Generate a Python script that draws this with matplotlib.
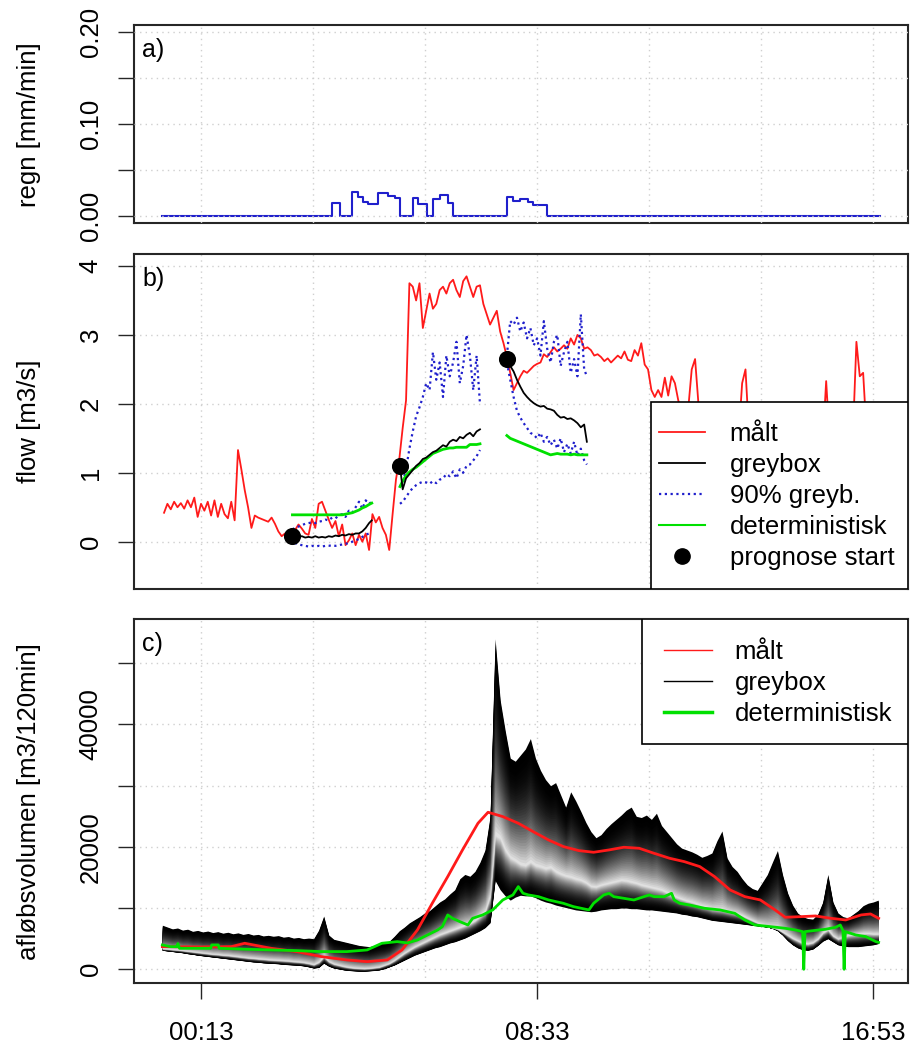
import numpy as np
import matplotlib
matplotlib.use("Agg")
import matplotlib.pyplot as plt
from matplotlib.lines import Line2D
from matplotlib.patches import Rectangle

plt.rcParams['font.family'] = ['Liberation Sans', 'DejaVu Sans']

# ---------------- data (time = minutes after 00:13) ----------------
xtick_pos = [0, 500, 1000]
xtick_lab = ['00:13', '08:33', '16:53']

# a) rain, step values
rain_t = [-58, 194.4, 206.8, 224.2, 234.1, 241.5, 248.9, 263.8, 271.2, 278.6, 288.5, 296.0,
          314.9, 323.3, 335.7, 344.6, 355.5, 367.9, 375.3, 455.7, 464.6, 474.5, 486.9,
          494.3, 515.1, 1010]
rain_v = [0, 0.0138, 0, 0.0264, 0.0210, 0.0156, 0.0130, 0.0253, 0.0245, 0.0217, 0.0195, 0,
          0.0195, 0.0130, 0, 0.0180, 0.0224, 0.0145, 0, 0.0203, 0.0163, 0.0181, 0.0152,
          0.0116, 0, 0]

# b) measured flow, every 5 min from -55 to 1010
flow_t = np.arange(-55, 1011, 5)
flow_maalt = [
    0.42, 0.55, 0.47, 0.58, 0.50, 0.56, 0.48, 0.60, 0.50, 0.64,
    0.36, 0.55, 0.45, 0.58, 0.38, 0.60, 0.36, 0.55, 0.40, 0.34,
    0.58, 0.31, 1.33, 1.05, 0.75, 0.50, 0.20, 0.38, 0.35, 0.33,
    0.31, 0.29, 0.35, 0.26, 0.15, 0.08, 0.12, 0.06, 0.02,
    0.17, 0.25, 0.19, 0.12, 0.10, 0.33, 0.20, 0.55, 0.58, 0.45,
    0.32, 0.20, 0.30, 0.08, 0.25, -0.05, 0.02, 0.12, -0.05, 0.10,
    0.00, 0.12, -0.12, 0.40, 0.28, 0.36, 0.20, 0.10,
    -0.12, 0.40, 0.90, 1.20, 1.65, 2.05, 3.75, 3.70, 3.50, 3.75,
    3.10, 3.35, 3.60, 3.38, 3.45, 3.65, 3.70, 3.60, 3.75, 3.80,
    3.65, 3.55, 3.78, 3.85, 3.70, 3.55, 3.70, 3.72, 3.45, 3.30,
    3.15, 3.25, 3.35, 3.05, 2.88, 2.68, 2.45, 2.20, 2.30, 2.40,
    2.48, 2.45, 2.50, 2.55, 2.58, 2.60, 2.72, 2.68, 2.75, 2.82,
    2.76, 2.80, 2.85, 2.80, 2.95, 2.86, 3.00, 2.95, 2.80, 2.82,
    2.78, 2.70, 2.72, 2.68, 2.62, 2.66, 2.60, 2.65, 2.70, 2.66,
    2.76, 2.64, 2.62, 2.78, 2.70, 2.88, 2.57, 2.50, 2.20, 2.10,
    2.20, 2.10, 2.38, 2.12, 2.40, 2.30, 2.05, 1.90, 1.85, 1.95,
    2.50, 2.65, 2.00, 1.85, 1.80, 1.70, 1.75, 1.65, 1.70, 1.60,
    1.65, 1.55, 1.60, 1.50, 1.55, 2.30, 2.50, 1.60, 1.50, 1.55,
    1.50, 1.45, 1.55, 1.50, 1.45, 1.50, 1.40, 1.45, 1.50, 1.45,
    1.40, 1.50, 1.45, 1.40, 1.45, 1.50, 1.40, 1.45, 1.50, 1.45,
    2.33, 1.50, 1.45, 1.40, 1.50, 1.45, 1.50, 1.55, 1.60, 2.90,
    2.40, 2.45, 1.60, 1.55, 1.50, 1.55, 1.50]

# forecast starts
start_t = [136, 296, 455]
start_v = [0.09, 1.10, 2.65]

f1_t = [136, 140, 145, 150, 155, 160, 165, 170, 175, 180, 185, 190, 195, 200, 205, 210,
        215, 220, 225, 230, 235, 240, 245, 250, 254]
f1_grey = [0.09, 0.08, 0.07, 0.08, 0.06, 0.07, 0.06, 0.08, 0.06, 0.07, 0.06, 0.08, 0.07,
           0.09, 0.08, 0.10, 0.09, 0.11, 0.10, 0.12, 0.12, 0.15, 0.20, 0.27, 0.31]
f1_det = [0.39, 0.39, 0.39, 0.39, 0.39, 0.39, 0.39, 0.39, 0.39, 0.39, 0.39, 0.39, 0.39,
          0.39, 0.39, 0.39, 0.40, 0.41, 0.42, 0.44, 0.46, 0.49, 0.51, 0.54, 0.56]
f1_hi = [0.18, 0.20, 0.22, 0.24, 0.26, 0.27, 0.28, 0.27, 0.29, 0.30, 0.32, 0.31, 0.35,
         0.34, 0.38, 0.40, 0.36, 0.45, 0.42, 0.50, 0.58, 0.48, 0.60, 0.55, 0.58]
f1_lo = [0.06, -0.02, -0.04, -0.05, -0.06, -0.07, -0.06, -0.07, -0.06, -0.07, -0.06, -0.06,
         -0.05, -0.06, -0.05, -0.04, -0.03, -0.02, 0.00, 0.02, 0.04, 0.07, 0.10, 0.12, 0.14]

f2_t = [296, 300, 305, 310, 315, 320, 325, 330, 335, 340, 345, 350, 355, 360, 365, 370,
        375, 380, 385, 390, 395, 400, 405, 410, 415]
f2_grey = [1.10, 0.76, 0.92, 0.98, 1.04, 1.10, 1.14, 1.20, 1.22, 1.26, 1.30, 1.32, 1.36,
           1.40, 1.38, 1.45, 1.48, 1.46, 1.52, 1.50, 1.55, 1.58, 1.53, 1.60, 1.63]
f2_det = [0.80, 0.88, 0.96, 1.01, 1.05, 1.08, 1.12, 1.16, 1.20, 1.24, 1.28, 1.30, 1.32,
          1.34, 1.35, 1.36, 1.36, 1.37, 1.37, 1.37, 1.37, 1.41, 1.41, 1.41, 1.42]
f2_hi = [0.80, 0.85, 1.05, 1.35, 1.60, 1.82, 1.95, 2.10, 2.30, 2.20, 2.75, 2.35, 2.60,
         2.10, 2.70, 2.40, 2.60, 2.90, 2.30, 2.55, 3.00, 2.70, 2.20, 2.70, 2.00]
f2_lo = [0.55, 0.58, 0.65, 0.72, 0.78, 0.82, 0.85, 0.87, 0.86, 0.84, 0.88, 0.85, 0.90,
         0.92, 0.98, 0.95, 1.02, 0.92, 1.05, 1.00, 1.10, 1.12, 1.18, 1.24, 1.33]

f3_t = [455, 460, 465, 470, 475, 480, 485, 490, 495, 500, 505, 510, 515, 520, 525, 530,
        535, 540, 545, 550, 555, 560, 565, 570, 574]
f3_grey = [2.65, 2.55, 2.47, 2.35, 2.25, 2.16, 2.10, 2.05, 2.01, 1.98, 1.96, 1.97, 1.93,
           1.92, 1.90, 1.84, 1.80, 1.81, 1.78, 1.79, 1.76, 1.72, 1.66, 1.70, 1.45]
f3_det = [1.54, 1.50, 1.48, 1.46, 1.44, 1.42, 1.40, 1.38, 1.36, 1.34, 1.32, 1.30, 1.28,
          1.26, 1.27, 1.28, 1.27, 1.27, 1.27, 1.26, 1.27, 1.26, 1.26, 1.26, 1.26]
f3_hi = [2.70, 3.20, 3.15, 3.25, 3.05, 3.18, 2.95, 3.10, 2.85, 2.95, 2.70, 3.20, 2.80,
         2.60, 2.90, 3.00, 2.55, 2.75, 2.90, 2.45, 2.65, 2.40, 3.30, 2.50, 2.40]
f3_lo = [2.60, 2.35, 2.10, 1.90, 1.80, 1.72, 1.65, 1.58, 1.55, 1.50, 1.58, 1.45, 1.52,
         1.40, 1.48, 1.35, 1.50, 1.30, 1.42, 1.28, 1.45, 1.25, 1.35, 1.18, 1.12]

# c) runoff volume
vol_t = np.arange(-57.5, 1008, 7.5)
vol_hi = [
    7200, 6900, 6600, 6750, 6400, 6550, 6200, 6350, 6100, 6250,
    6000, 6150, 5900, 6050, 5800, 5950, 5700, 5850, 5600, 5700,
    5450, 5550, 5400, 5500, 5250, 5350, 5100, 5200, 5000, 5100,
    5000, 6400, 8700, 5600, 4900, 4700, 4500, 4300, 4100, 3900,
    3800, 3700, 3900, 4200, 4300, 4600, 5400, 6300, 6900, 7600,
    8100, 8600, 9200, 9600, 10300, 11000, 11500, 12300, 13000, 14800,
    15500, 15200, 16000, 17500, 19500, 25000, 54000, 44000, 39000, 34500,
    34000, 35000, 36000, 37700, 34500, 32500, 31000, 30000, 30500, 28500,
    26500, 29000, 27500, 25800, 24000, 22500, 21500, 22000, 23000, 23800,
    24500, 25200, 26000, 26500, 25000, 24800, 25200, 24500, 25500, 23500,
    22500, 21500, 20500, 19800, 19500, 19200, 18800, 18300, 18600, 19000,
    21000, 22600, 18200, 16800, 16000, 14800, 13800, 13200, 12900, 14200,
    15500, 17500, 19400, 15500, 12500, 10500, 9200, 8600, 8300, 8200,
    9000, 11000, 15500, 11000, 9200, 8600, 8400, 9000, 9600, 10400,
    10800, 11000, 11300]
vol_med = [
    3400, 3350, 3250, 3200, 3100, 3000, 2900, 2800, 2700, 2600,
    2500, 2450, 2350, 2300, 2200, 2100, 2000, 1900, 1850, 1750,
    1700, 1600, 1550, 1500, 1450, 1400, 1300, 1250, 1150, 1000,
    800, 1200, 2100, 1300, 900, 700, 500, 350, 250, 200,
    150, 200, 300, 400, 700, 1000, 1500, 2100, 2700, 3200,
    3700, 4100, 4500, 4900, 5300, 5700, 6000, 6300, 6600, 6900,
    7200, 7500, 8000, 8700, 9500, 12000, 22000, 21500, 19500, 18300,
    17800, 17200, 17000, 17600, 17000, 16800, 16500, 16700, 16000, 15600,
    15300, 15100, 14800, 14600, 14200, 13600, 13500, 13800, 14000, 14200,
    14400, 14600, 14500, 14300, 14100, 13800, 13600, 13400, 13200, 13000,
    12600, 12200, 11800, 11500, 11200, 11000, 10700, 10400, 10200, 9900,
    9800, 9700, 9500, 9300, 9100, 8800, 8400, 8000, 7600, 7300,
    7000, 6800, 6600, 6100, 5600, 5100, 4700, 4300, 4200, 4400,
    5000, 6000, 6500, 5500, 5000, 5300, 5600, 5700, 5800, 5900,
    5900, 5800, 5800]
vol_lo = [
    3100, 3000, 2900, 2800, 2700, 2550, 2450, 2300, 2200, 2100,
    2000, 1900, 1800, 1700, 1600, 1500, 1400, 1300, 1200, 1150,
    1050, 1000, 950, 900, 800, 750, 700, 650, 550, 400,
    200, 300, 1000, 500, 200, 50, -100, -200, -250, -300,
    -300, -250, -200, -100, 100, 400, 700, 1100, 1500, 1900,
    2300, 2600, 2900, 3200, 3500, 3700, 4000, 4300, 4500, 4800,
    5100, 5500, 5900, 6300, 6800, 7600, 14500, 13000, 12000, 11300,
    11800, 12100, 12000, 12000, 11700, 11300, 11000, 10800, 10500, 10300,
    10100, 9900, 9700, 9600, 9500, 9400, 9500, 9700, 9800, 9900,
    9900, 10000, 10000, 9900, 9900, 9800, 9700, 9700, 9600, 9500,
    9400, 9300, 9200, 9000, 8900, 8700, 8600, 8400, 8200, 8000,
    7900, 7800, 7700, 7600, 7500, 7400, 7300, 7200, 7100, 7000,
    6900, 6700, 6300, 5600, 4700, 4000, 3500, 3200, 3100, 3300,
    3900, 4600, 5000, 4500, 4000, 3800, 3700, 3700, 3700, 3800,
    3900, 4000, 4200]

vmaalt_t = [-57.5, 0, 45, 65, 104, 142, 179, 217, 247, 277, 299, 322, 344, 367, 389, 412,
            427, 449, 472, 494, 517, 539, 562, 584, 607, 629, 652, 674, 697, 719, 742,
            764, 787, 809, 832, 854, 869, 892, 914, 937, 959, 982, 996, 1008]
vmaalt_v = [3700, 3650, 3700, 4250, 3430, 2890, 2070, 1525, 1250, 1525, 3160, 6430, 10785,
            15140, 19500, 23860, 25660, 24950, 23860, 22500, 21130, 20050, 19390, 19120,
            19500, 19940, 19770, 18950, 18140, 17590, 16780, 15140, 12960, 11870, 11330,
            9700, 8500, 8600, 8715, 8330, 8060, 8880, 9040, 8330]

vdet_t = [-57.5, -45.5, -36, -34.3, -32, 14.4, 16, 25.7, 27, 67, 104, 142, 179, 217, 247,
          258, 269, 292, 307, 322, 337, 352, 359, 367, 374, 385, 397, 404, 419, 434, 449,
          464, 472, 479, 487, 502, 517, 539, 554, 577, 584, 599, 607, 614, 629, 644, 659,
          667, 674, 689, 700, 704, 712, 727, 749, 772, 794, 809, 824, 847, 869, 884, 895,
          896.7, 898.5, 929, 944, 951, 955, 956.7, 958.5, 974, 989, 1004, 1008]
vdet_v = [3980, 3700, 3700, 4200, 3430, 3430, 3980, 3980, 3430, 3270, 3160, 3050, 2890,
          2890, 3160, 3700, 4250, 4520, 4300, 4790, 5610, 6430, 6970, 8880, 8330, 7790,
          7240, 8330, 8880, 9700, 11330, 12150, 13510, 12420, 12150, 11870, 11330, 10785,
          10240, 9700, 10785, 12150, 12420, 11870, 11600, 11330, 11870, 12150, 11870,
          11870, 12420, 11330, 10785, 10500, 9970, 9700, 9150, 8060, 7240, 6970, 6700,
          6430, 6155, 0, 6155, 6540, 6860, 7240, 6300, 0, 6155, 5610, 5340, 4520, 4400]

# ---------------- layout ----------------
W, H = 911, 1045
XLIM = (-99.7, 1051)
XGRID = [0, 166.67, 333.33, 500, 666.67, 833.33, 1000]
FS = 18.5
EDGE = '#262626'
GRIDC = '#cfcfcf'
RED = '#ff1a1a'
GREEN = '#00e000'
BLUE = '#1f1fcc'

fig = plt.figure(figsize=(W / 100, H / 100), dpi=100)


def add_ax(top, bottom):
    return fig.add_axes([134 / W, 1 - bottom / H, 773.5 / W, (bottom - top) / H])


def style(ax, ylim, yticks, ylabels, ylabel, gridz):
    ax.set_xlim(XLIM)
    ax.set_ylim(ylim)
    for s in ax.spines.values():
        s.set_linewidth(1.5)
        s.set_color(EDGE)
    ax.set_yticks(yticks)
    ax.set_yticklabels(ylabels, rotation=90, va='center', fontsize=FS)
    ax.tick_params(axis='y', length=11.5, width=1.0, pad=11, color=EDGE)
    for xg in XGRID:
        ax.axvline(xg, color=GRIDC, lw=1.0, ls=(0, (1, 3)), zorder=gridz)
    for yg in yticks:
        ax.axhline(yg, color=GRIDC, lw=1.0, ls=(0, (1, 3)), zorder=gridz)
    ax.set_ylabel(ylabel, fontsize=FS)
    ax.yaxis.set_label_coords(-0.12, 0.5)


def tag(ax, s):
    ax.annotate(s, xy=(0, 1), xycoords='axes fraction', xytext=(8, -13),
                textcoords='offset pixels', ha='left', va='top', fontsize=18)


# a) rain
ax1 = add_ax(25, 223.3)
ax1.step(rain_t, rain_v, where='post', color=BLUE, lw=1.5, zorder=2)
style(ax1, (-0.008, 0.208), [0, 0.05, 0.10, 0.15, 0.20],
      ['0.00', '', '0.10', '', '0.20'], 'regn [mm/min]', 3)
ax1.tick_params(axis='x', bottom=False, labelbottom=False)
tag(ax1, 'a)')

# b) flow
ax2 = add_ax(254, 589)
style(ax2, (-0.686, 4.174), [0, 1, 2, 3, 4], ['0', '1', '2', '3', '4'], 'flow [m3/s]', 0)
ax2.tick_params(axis='x', bottom=False, labelbottom=False)
ax2.plot(flow_t, flow_maalt, color=RED, lw=1.3, zorder=2)
for ft, g, d, hi, lo in [(f1_t, f1_grey, f1_det, f1_hi, f1_lo),
                          (f2_t, f2_grey, f2_det, f2_hi, f2_lo),
                          (f3_t, f3_grey, f3_det, f3_hi, f3_lo)]:
    ax2.plot(ft, hi, color=BLUE, lw=1.6, ls=(0, (1, 1.6)), zorder=2)
    ax2.plot(ft, lo, color=BLUE, lw=1.6, ls=(0, (1, 1.6)), zorder=2)
    ax2.plot(ft, d, color=GREEN, lw=2.0, zorder=2)
    ax2.plot(ft, g, color='black', lw=1.3, zorder=2)
ax2.plot(start_t, start_v, 'o', color='black', ms=11.3, zorder=3)
tag(ax2, 'b)')

ax2.add_patch(Rectangle((0.669, 0), 0.331, 0.559, transform=ax2.transAxes,
                        facecolor='white', edgecolor='black', lw=1.2, zorder=5))
h_b = [Line2D([], [], color=RED, lw=1.3),
       Line2D([], [], color='black', lw=1.3),
       Line2D([], [], color=BLUE, lw=1.6, ls=(0, (1, 1.6))),
       Line2D([], [], color=GREEN, lw=1.5),
       Line2D([], [], color='black', marker='o', ms=11, ls='none')]
leg = ax2.legend(h_b, ['målt', 'greybox', '90% greyb.', 'deterministisk', 'prognose start'],
                 loc='upper left', bbox_to_anchor=(0.6787, 0.4985), bbox_transform=ax2.transAxes,
                 frameon=False, fontsize=FS, borderpad=0, borderaxespad=0,
                 handlelength=1.8, handletextpad=0.95, labelspacing=0.27, numpoints=1)
leg.set_zorder(6)

# c) volume
ax3 = add_ax(619.3, 983.3)
style(ax3, (-2290, 57190), [0, 10000, 20000, 30000, 40000, 50000],
      ['0', '', '20000', '', '40000', ''], 'afløbsvolumen [m3/120min]', 0)
ax3.set_xticks(xtick_pos)
ax3.set_xticklabels(xtick_lab, fontsize=FS)
ax3.tick_params(axis='x', length=11.5, width=1.0, pad=16, color=EDGE)

# greybox density fan: black at the outer quantiles, light at the median
hi = np.array(vol_hi, float)
med = np.array(vol_med, float)
lo = np.array(vol_lo, float)
for f in np.linspace(1, 0.02, 40):
    g = 0.92 * (1 - f) ** 2.2
    ax3.fill_between(vol_t, med - f * (med - lo), med + f * (hi - med),
                     color=(g, g, g), lw=0, zorder=1)
ax3.plot(vmaalt_t, vmaalt_v, color=RED, lw=2.0, zorder=3)
ax3.plot(vdet_t, vdet_v, color=GREEN, lw=2.0, zorder=3)
tag(ax3, 'c)')

ax3.add_patch(Rectangle((0.6564, 0.6574), 0.3436, 0.3426, transform=ax3.transAxes,
                        facecolor='white', edgecolor='black', lw=1.2, zorder=5))
h_c = [Line2D([], [], color=RED, lw=1.0),
       Line2D([], [], color='black', lw=1.0),
       Line2D([], [], color=GREEN, lw=2.5)]
leg3 = ax3.legend(h_c, ['målt', 'greybox', 'deterministisk'],
                  loc='upper left', bbox_to_anchor=(0.6852, 0.944), bbox_transform=ax3.transAxes,
                  frameon=False, fontsize=FS, borderpad=0, borderaxespad=0,
                  handlelength=1.85, handletextpad=0.9, labelspacing=0.27)
leg3.set_zorder(6)

fig.savefig('out.png', dpi=100)
